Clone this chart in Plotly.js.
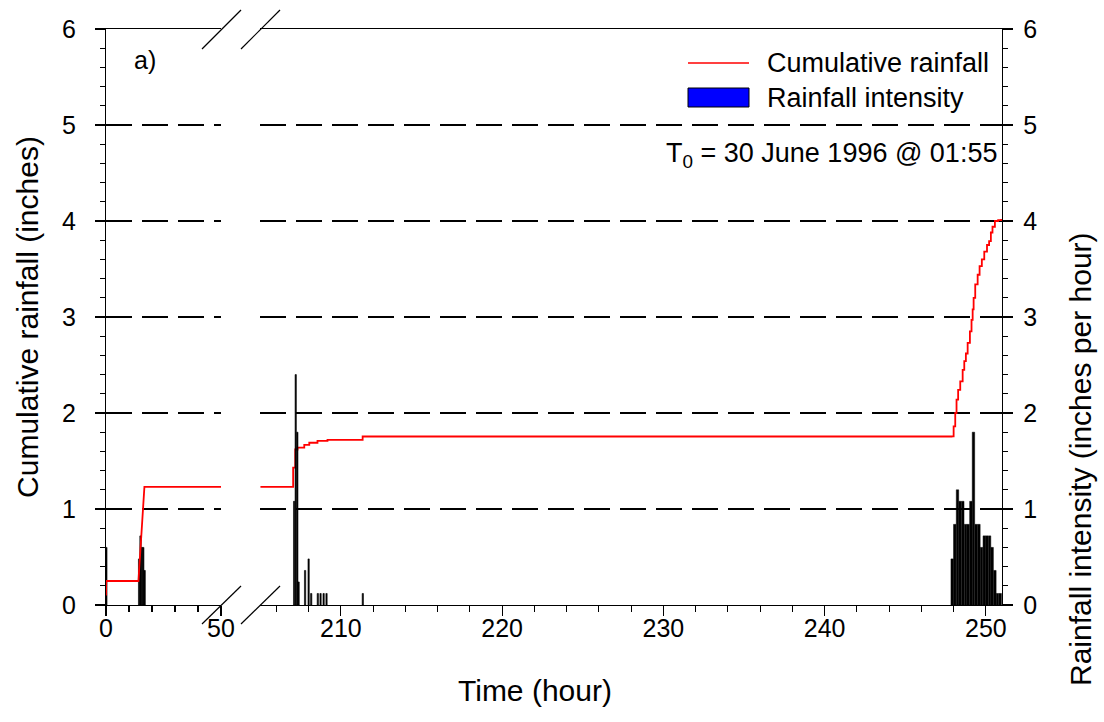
<!DOCTYPE html>
<html>
<head>
<meta charset="utf-8">
<script src="https://cdn.plot.ly/plotly-3.0.1.min.js"></script>
<style>html,body{margin:0;padding:0;background:#fff}#chart{width:1104px;height:722px}</style>
</head>
<body>
<div id="chart"></div>
<script>
// ---- data ----
// left axis segment (hours 0-50)
const leftCumHours = [0, 0.1, 14.1, 14.6, 15.3, 16.0, 16.7, 50];
const leftCum      = [0.1, 0.25, 0.25, 0.45, 0.72, 0.98, 1.23, 1.23];
const leftBarHours = [0.15, 14.4, 15.0, 15.6, 16.2, 16.8];
const leftBarInt   = [0.6, 0.48, 0.72, 0.6, 0.6, 0.36];

// right axis segment (hours 205-251)
const rightCumHours = [205, 207.04, 207.17, 207.31, 207.73, 208.04, 208.55, 209.17, 211.35,
  247.87, 248.0, 248.1, 248.18, 248.28, 248.41, 248.56, 248.66, 248.76, 248.87, 249.01,
  249.11, 249.18, 249.24, 249.34, 249.49, 249.61, 249.75, 249.9, 250.07, 250.2, 250.31,
  250.41, 250.56, 250.76, 250.95];
const rightCum = [1.23, 1.43, 1.62, 1.64, 1.667, 1.69, 1.71, 1.72, 1.755,
  1.756, 1.86, 2.0, 2.14, 2.24, 2.33, 2.45, 2.54, 2.62, 2.73, 2.85,
  2.97, 3.08, 3.2, 3.34, 3.44, 3.53, 3.6, 3.68, 3.75, 3.79, 3.88,
  3.94, 4.0, 4.01, 4.02];

const earlyBarHours = [207.1, 207.2, 207.3, 207.38, 207.78, 208.0, 208.16, 208.57, 208.74, 208.93, 209.11, 211.36];
const earlyBarInt   = [1.08, 2.4, 1.8, 0.24, 0.36, 0.48, 0.12, 0.12, 0.12, 0.12, 0.12, 0.12];

const lateBarHours = [247.91, 248.07, 248.24, 248.4, 248.57, 248.74, 248.9, 249.07, 249.23,
  249.4, 249.57, 249.73, 249.9, 250.06, 250.23, 250.39, 250.56, 250.72, 250.89];
const lateBarInt = [0.48, 0.84, 1.2, 1.08, 1.08, 0.84, 0.84, 1.08, 1.8,
  0.84, 0.84, 0.6, 0.72, 0.72, 0.72, 0.6, 0.36, 0.12, 0.12];

const leftTicks  = [0, 50];
const rightTicks = [210, 220, 230, 240, 250];
const yTicks     = [0, 1, 2, 3, 4, 5, 6];

// ---- chart ----
const FONT = 'Liberation Sans, Arial, sans-serif';
const red = '#ff0000';

const traces = [
  {type:'bar', name:'Rainfall intensity', x:leftBarHours, y:leftBarInt, xaxis:'x', yaxis:'y',
   width:0.6, marker:{color:'#000', line:{color:'#000', width:0.6}}, showlegend:false},
  {type:'bar', name:'Rainfall intensity', x:earlyBarHours, y:earlyBarInt, xaxis:'x2', yaxis:'y2',
   width:0.08, marker:{color:'#000', line:{color:'#000', width:0.6}}, showlegend:false},
  {type:'bar', name:'Rainfall intensity', x:lateBarHours, y:lateBarInt, xaxis:'x2', yaxis:'y2',
   width:0.15, marker:{color:'#000', line:{color:'#000', width:0.5}}, showlegend:false},
  {type:'scatter', mode:'lines', name:'Cumulative rainfall', x:leftCumHours, y:leftCum,
   xaxis:'x', yaxis:'y', line:{color:red, width:1.8}, showlegend:false},
  {type:'scatter', mode:'lines', name:'Cumulative rainfall', x:rightCumHours, y:rightCum,
   xaxis:'x2', yaxis:'y', line:{color:red, width:1.8, shape:'hv'}, showlegend:false}
];

const axisCommon = {
  showline:true, linecolor:'#000', linewidth:1.2, zeroline:false,
  ticks:'outside', ticklen:10, tickwidth:1.2, tickcolor:'#000',
  tickfont:{family:FONT, size:25, color:'#000'}
};

const PL = 106, PW = 896, PB = 605, PH = 576;
const px = v => (v - PL) / PW;
const py = v => (PB - v) / PH;

const layout = {
  width:1104, height:722,
  margin:{l:PL, r:1104-PL-PW, t:PB-PH, b:722-PB, autoexpand:false},
  paper_bgcolor:'#fff', plot_bgcolor:'#fff',
  showlegend:false, bargap:0, barmode:'overlay',
  font:{family:FONT, color:'#000'},
  xaxis:Object.assign({}, axisCommon, {
    domain:[0, 115/896], range:[0, 50], anchor:'y', mirror:true, showgrid:false,
    tickmode:'array', tickvals:leftTicks, ticklabelstandoff:-9,
    minor:{tickmode:'linear', tick0:0, dtick:10, ticks:'outside', ticklen:6, tickwidth:1.2, tickcolor:'#000', showgrid:false}
  }),
  xaxis2:Object.assign({}, axisCommon, {
    domain:[154.25/896, 1], range:[205, 251], anchor:'y', mirror:true, showgrid:false,
    tickmode:'array', tickvals:rightTicks, ticklabelstandoff:-9,
    minor:{tickmode:'linear', tick0:200, dtick:2, ticks:'outside', ticklen:6, tickwidth:1.2, tickcolor:'#000', showgrid:false}
  }),
  yaxis:Object.assign({}, axisCommon, {
    range:[0, 6], anchor:'x', tickmode:'array', tickvals:yTicks, ticklabelstandoff:14,
    showgrid:true, gridcolor:'#000', gridwidth:1.2, griddash:'26px,10px',
    title:{text:'Cumulative rainfall (inches)', font:{family:FONT, size:30, color:'#000'}, standoff:14},
    minor:{tickmode:'linear', tick0:0, dtick:0.2, ticks:'outside', ticklen:5, tickwidth:1.2, tickcolor:'#000', showgrid:false}
  }),
  yaxis2:Object.assign({}, axisCommon, {
    range:[0, 6], overlaying:'y', side:'right', anchor:'x2', tickmode:'array', tickvals:yTicks, ticklabelstandoff:5,
    showgrid:false,
    minor:{tickmode:'linear', tick0:0, dtick:0.2, ticks:'outside', ticklen:5, tickwidth:1.2, tickcolor:'#000', showgrid:false}
  }),
  shapes:[
    // axis-break marks
    {type:'line', xref:'paper', yref:'paper', x0:px(202), y0:py(624), x1:px(241), y1:py(586), line:{color:'#000', width:1.2}},
    {type:'line', xref:'paper', yref:'paper', x0:px(241), y0:py(624), x1:px(280), y1:py(586), line:{color:'#000', width:1.2}},
    {type:'line', xref:'paper', yref:'paper', x0:px(202), y0:py(49), x1:px(241), y1:py(10), line:{color:'#000', width:1.2}},
    {type:'line', xref:'paper', yref:'paper', x0:px(241), y0:py(49), x1:px(280), y1:py(10), line:{color:'#000', width:1.2}},
    // legend symbols
    {type:'line', xref:'paper', yref:'paper', x0:px(688), y0:py(63), x1:px(749), y1:py(63), line:{color:red, width:1.6}},
    {type:'rect', xref:'paper', yref:'paper', x0:px(688), y0:py(107), x1:px(749), y1:py(88), fillcolor:'#0000ff', line:{color:'#000', width:1}}
  ],
  annotations:[
    {xref:'paper', yref:'paper', x:px(765), y:py(63), xanchor:'left', yanchor:'middle', showarrow:false,
     text:'Cumulative rainfall', font:{family:FONT, size:27, color:'#000'}},
    {xref:'paper', yref:'paper', x:px(765), y:py(98), xanchor:'left', yanchor:'middle', showarrow:false,
     text:'Rainfall intensity', font:{family:FONT, size:27, color:'#000'}},
    {xref:'paper', yref:'paper', x:px(999), y:py(155), xanchor:'right', yanchor:'middle', showarrow:false,
     text:'T<sub>0</sub> = 30 June 1996 @ 01:55', font:{family:FONT, size:27, color:'#000'}},
    {xref:'paper', yref:'paper', x:px(132), y:py(60), xanchor:'left', yanchor:'middle', showarrow:false,
     text:'a)', font:{family:FONT, size:25, color:'#000'}},
    {xref:'paper', yref:'paper', x:px(535), y:py(690), xanchor:'center', yanchor:'middle', showarrow:false,
     text:'Time (hour)', font:{family:FONT, size:30, color:'#000'}},
    {xref:'paper', yref:'paper', x:px(1080), y:py(459), xanchor:'center', yanchor:'middle', showarrow:false, textangle:-90,
     text:'Rainfall intensity (inches per hour)', font:{family:FONT, size:30, color:'#000'}}
  ]
};

Plotly.newPlot('chart', traces, layout, {staticPlot:true, displayModeBar:false});
</script>
</body>
</html>
